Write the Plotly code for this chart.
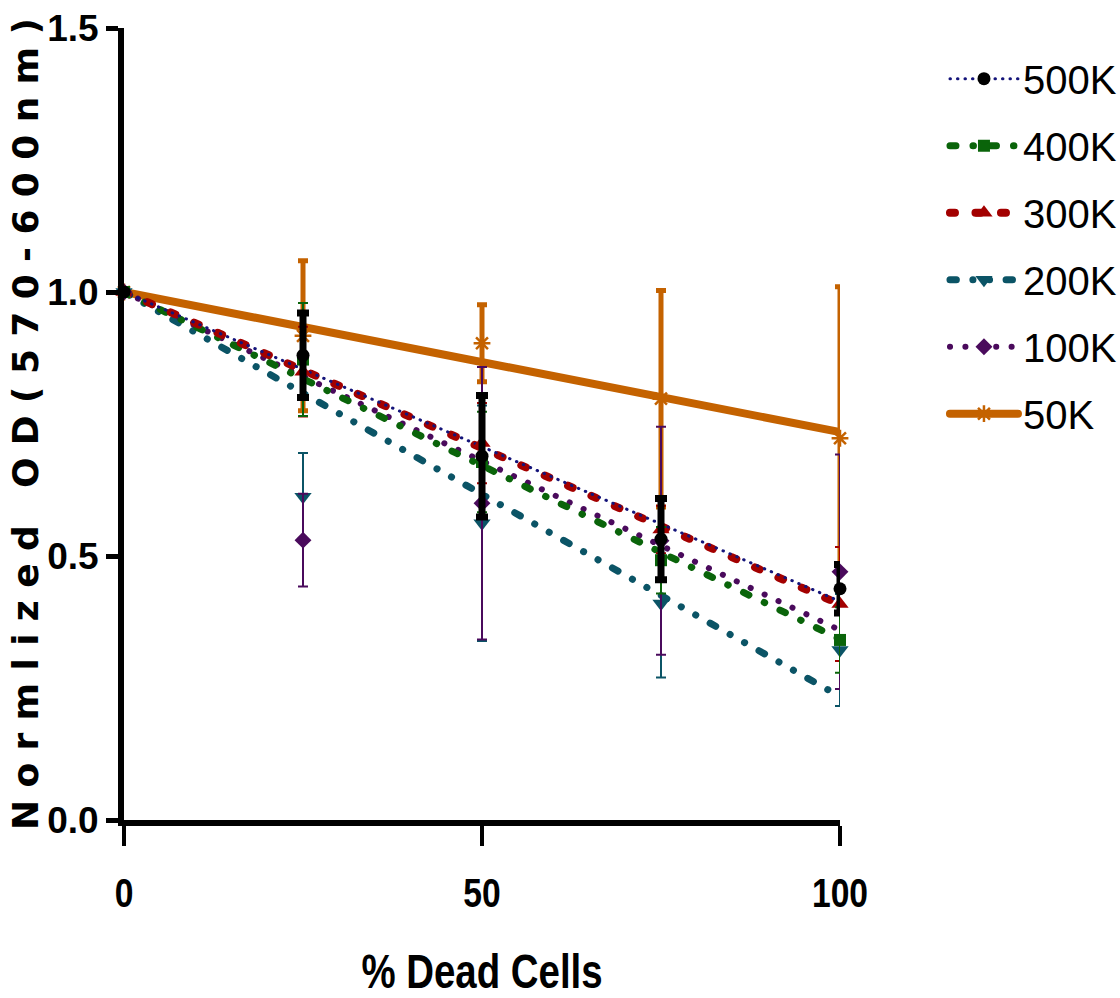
import numpy as np
import plotly.graph_objects as go

# % dead cells in each well
dead_pct = [0, 25, 50, 75, 100]

# Seeding densities, plotted in legend order
series_names = ["500K", "400K", "300K", "200K", "100K", "50K"]

# Normalised OD (570-600 nm), mean and SD per density
od_500k = [1.0, 0.880, 0.689, 0.532, 0.438]
sd_500k = [0.0, 0.080, 0.115, 0.077, 0.046]
od_400k = [1.0, 0.872, 0.678, 0.492, 0.341]
sd_400k = [0.0, 0.107, 0.095, 0.063, 0.062]
od_300k = [1.0, 0.849, 0.714, 0.550, 0.409]
sd_300k = [0.0, 0.085, 0.076, 0.045, 0.108]
od_200k = [1.0, 0.612, 0.562, 0.410, 0.322]
sd_200k = [0.0, 0.083, 0.223, 0.140, 0.106]
od_100k = [1.0, 0.530, 0.600, 0.529, 0.470]
sd_100k = [0.0, 0.088, 0.258, 0.216, 0.222]
od_50k = [1.0, 0.917, 0.903, 0.798, 0.723]
sd_50k = [0.0, 0.142, 0.073, 0.205, 0.287]

x_ticks = [0, 50, 100]
y_ticks = [0.0, 0.5, 1.0, 1.5]

x_title = "% Dead Cells"
y_title = "Normlized OD(570-600nm)"

SANS = "Liberation Sans, Arial, sans-serif"
WIDE_BOLD = "DejaVu Sans, Liberation Sans, Arial, sans-serif"

styles = {
    "500K": dict(od=od_500k, sd=sd_500k, line="#14147a", width=3, dash="0.5px,7px",
                 symbol="circle", mcolor="#000000", msize=13, ebar="#000000",
                 ethick=7, ewidth=6),
    "400K": dict(od=od_400k, sd=sd_400k, line="#0a640a", width=7,
                 dash="6px,17px,0.5px,17px", symbol="square", mcolor="#0a640a",
                 msize=12, ebar="#0a640a", ethick=2, ewidth=5),
    "300K": dict(od=od_300k, sd=sd_300k, line="#a30000", width=8, dash="5px,20.5px",
                 symbol="triangle-up", mcolor="#a30000", msize=15, ebar="#a30000",
                 ethick=2, ewidth=5),
    "200K": dict(od=od_200k, sd=sd_200k, line="#0b5466", width=7,
                 dash="6.4px,16.5px,0.1px,16.5px,0.1px,16.5px", symbol="triangle-down",
                 mcolor="#0b5466", msize=15, ebar="#0b5466", ethick=2, ewidth=5),
    "100K": dict(od=od_100k, sd=sd_100k, line="#4a0a5c", width=6, dash="0.1px,15.3px",
                 symbol="diamond", mcolor="#4a0a5c", msize=13, ebar="#4a0a5c",
                 ethick=2, ewidth=5),
    "50K": dict(od=od_50k, sd=sd_50k, line="#c46200", width=8, dash="solid",
                symbol="asterisk-open", mcolor="#c46200", msize=14, ebar="#c46200",
                ethick=5, ewidth=5),
}


def fit_through_one(x, y):
    """Least-squares slope of a line constrained to pass through (0, 1)."""
    x = np.asarray(x, float)
    y = np.asarray(y, float)
    return np.sum(x * (y - 1.0)) / np.sum(x * x)


def marker_for(s):
    m = dict(symbol=s["symbol"], size=s["msize"], color=s["mcolor"])
    if s["symbol"].endswith("open"):
        m["line"] = dict(color=s["mcolor"], width=2.5)
    return m


fig = go.Figure()

# regression lines (drawn first, 500K last so its dots sit on top)
for name in ["50K", "200K", "100K", "400K", "300K", "500K"]:
    s = styles[name]
    slope = fit_through_one(dead_pct, s["od"])
    xs = [dead_pct[0], dead_pct[-1]]
    ys = [1.0 + slope * v for v in xs]
    fig.add_trace(go.Scatter(
        x=xs, y=ys, mode="lines", showlegend=False, hoverinfo="skip",
        line=dict(color=s["line"], width=s["width"], dash=s["dash"]),
        cliponaxis=False,
    ))

# mean +/- SD points
for name in ["50K", "200K", "100K", "300K", "400K", "500K"]:
    s = styles[name]
    fig.add_trace(go.Scatter(
        x=dead_pct, y=s["od"], mode="markers", name=name, showlegend=False,
        marker=marker_for(s), cliponaxis=False,
        error_y=dict(type="data", array=s["sd"], visible=True, color=s["ebar"],
                     thickness=s["ethick"], width=s["ewidth"]),
    ))

# legend entries
for name in series_names:
    s = styles[name]
    fig.add_trace(go.Scatter(
        x=[None], y=[None], mode="lines+markers", name=name, legendgroup=name,
        line=dict(color=s["line"], width=s["width"], dash=s["dash"]),
        marker=marker_for(s),
    ))

fig.update_layout(
    width=1120, height=998,
    margin=dict(l=124, r=280, t=28, b=178, autoexpand=False),
    paper_bgcolor="white", plot_bgcolor="white",
    showlegend=True,
    legend=dict(
        x=1.1466, y=0.977, xanchor="left", yanchor="top",
        font=dict(family=SANS, size=40, color="#000000"),
        itemwidth=68, tracegroupgap=12, bgcolor="rgba(0,0,0,0)",
        itemclick=False, itemdoubleclick=False,
    ),
    xaxis=dict(
        range=[0, 100], tickvals=x_ticks, showgrid=False, zeroline=False,
        automargin=False,
        showline=True, linecolor="black", linewidth=6,
        ticks="outside", ticklen=20, tickwidth=4, tickcolor="black",
        ticklabelstandoff=13,
        tickfont=dict(family=SANS, size=40, color="black", weight="bold"),
        title=dict(text=x_title, standoff=54,
                   font=dict(family=SANS, size=48, color="black", weight="bold")),
    ),
    yaxis=dict(
        range=[0, 1.5], tickvals=y_ticks, tickformat=".1f", showgrid=False,
        zeroline=False, automargin=False,
        showline=True, linecolor="black", linewidth=6,
        ticks="outside", ticklen=12, tickwidth=5, tickcolor="black",
        tickfont=dict(family=SANS, size=37, color="black", weight="bold"),
    ),
    annotations=[dict(
        text=y_title, textangle=-90, showarrow=False,
        xref="paper", yref="paper", x=-0.138, y=0.5,
        xanchor="center", yanchor="middle",
        font=dict(family=WIDE_BOLD, size=36, color="black", weight="bold"),
    )],
)

# condensed lettering on the x axis, round dash ends, spaced y title
post = """
var gd = document.getElementById('{plot_id}');
function fitText(sel, factor, adjust, fixedLen){
  gd.querySelectorAll(sel).forEach(function(t){
    if (t.getAttribute('textLength')) return;
    var L = t.getComputedTextLength();
    if (!(L > 0)) return;
    var target = fixedLen ? fixedLen : L * factor;
    t.setAttribute('textLength', target.toFixed(1));
    t.setAttribute('lengthAdjust', adjust);
  });
}
function finish(){
  gd.querySelectorAll('path.js-line').forEach(function(p){ p.style.strokeLinecap = 'round'; });
  fitText('g.xtick text', 0.84, 'spacingAndGlyphs');
  fitText('text.xtitle', 0.8, 'spacingAndGlyphs');
  fitText('g.annotation text.annotation-text', 1, 'spacing', 812);
}
finish();
gd.on('plotly_afterplot', finish);
"""

fig.write_html("out.html", post_script=post, config={"displayModeBar": False})
